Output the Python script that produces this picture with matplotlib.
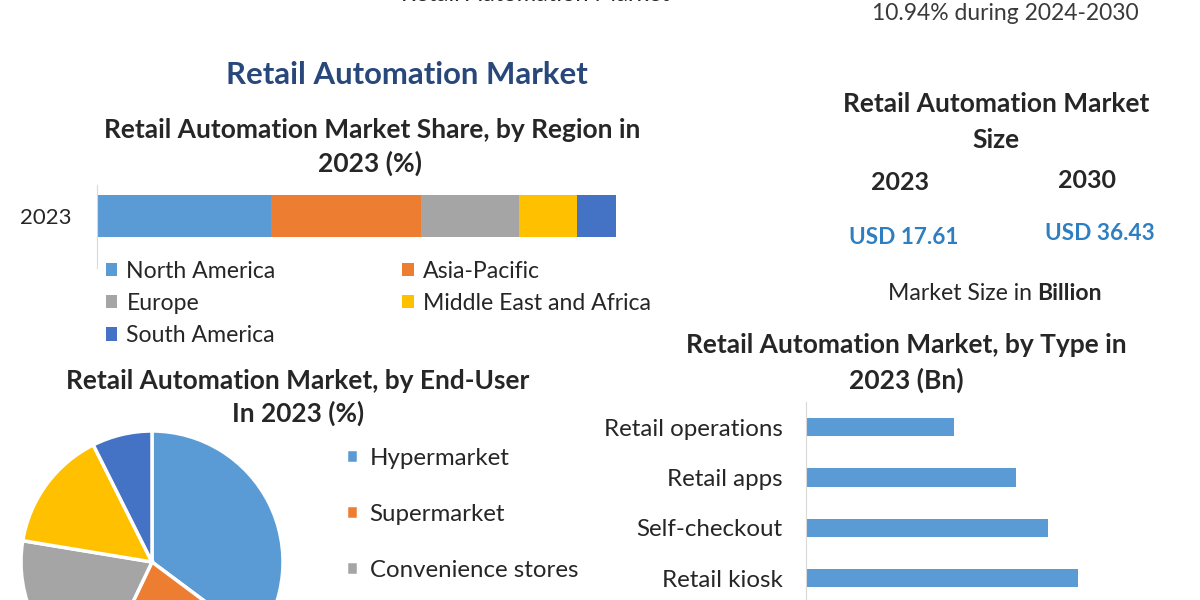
import matplotlib
matplotlib.use('Agg')
import matplotlib.pyplot as plt

plt.rcParams['font.family'] = ['Lato', 'DejaVu Sans']

W, H = 1200, 600

def box(x0, y0, x1, y1):
    '''pixel box (top-left origin) -> figure fraction rect'''
    return [x0 / W, 1 - y1 / H, (x1 - x0) / W, (y1 - y0) / H]

def fx(x):
    return x / W

def fy(y):
    return 1 - y / H

# data
regions = ['North America', 'Asia-Pacific', 'Europe', 'Middle East and Africa', 'South America']
region_share = [33.5, 28.8, 18.8, 11.3, 7.5]

end_users = ['Hypermarket', 'Supermarket', 'Convenience stores', 'Department stores', 'Others']
end_user_share = [35.2, 21.9, 20.5, 15.0, 7.4]

types = ['Retail operations', 'Retail apps', 'Self-checkout', 'Retail kiosk']
type_value = [2.21, 3.13, 3.61, 4.06]

size_years = ['2023', '2030']
size_values = ['USD 17.61', 'USD 36.43']

colors = ['#5B9BD5', '#ED7D31', '#A5A5A5', '#FFC000', '#4472C4']
TXT = '#262626'

fig = plt.figure(figsize=(12, 6), dpi=100)
fig.patch.set_facecolor('white')

# header remnants cut at the top
fig.text(fx(535), fy(1), 'Retail Automation Market', ha='center', va='baseline',
         fontsize=17, color=TXT)
fig.text(fx(1005), fy(13), '10.94% during 2024-2030', ha='center', va='center',
         fontsize=16.5, color='#3a3a3a')

fig.text(fx(407), fy(75), 'Retail Automation Market', ha='center', va='center',
         fontsize=22.4, fontweight='bold', color='#28477A')

# ---- region stacked bar ----
fig.text(fx(372), fy(130), 'Retail Automation Market Share, by Region in', ha='center',
         va='center', fontsize=19, fontweight='bold', color=TXT)
fig.text(fx(370), fy(163), '2023 (%)', ha='center', va='center', fontsize=19,
         fontweight='bold', color=TXT)

ax1 = fig.add_axes(box(97, 185, 617, 268))
left = 0
handles = []
for name, val, c in zip(regions, region_share, colors):
    h = ax1.barh(0, val, left=left, height=1.0, color=c, label=name)
    handles.append(h)
    left += val
ax1.set_xlim(0, 100)
ax1.set_ylim(-1.238, 0.738)
ax1.set_yticks([0])
ax1.set_yticklabels(['2023'], fontsize=16, color=TXT)
ax1.tick_params(axis='y', length=0, pad=18)
ax1.set_xticks([])
for s in ['top', 'right', 'bottom']:
    ax1.spines[s].set_visible(False)
ax1.spines['left'].set_color('#D9D9D9')
order = [0, 2, 4, 1, 3]
ax1.legend([handles[i] for i in order], [regions[i] for i in order], ncol=2,
           loc='upper left', bbox_to_anchor=(fx(85), fy(240)),
           bbox_transform=fig.transFigure, frameon=False, fontsize=16.6,
           handlelength=0.5, handleheight=0.5, handletextpad=0.4,
           columnspacing=5.48, labelspacing=0.485, labelcolor=TXT)

# ---- market size block ----
fig.text(fx(996), fy(104), 'Retail Automation Market', ha='center', va='center',
         fontsize=19, fontweight='bold', color=TXT)
fig.text(fx(996), fy(140), 'Size', ha='center', va='center', fontsize=19,
         fontweight='bold', color=TXT)
for x, y, yr in zip([900, 1087], [182, 180], size_years):
    fig.text(fx(x), fy(y), yr, ha='center', va='center', fontsize=18,
             fontweight='bold', color=TXT)
for x, y, v in zip([904, 1100], [237, 233], size_values):
    fig.text(fx(x), fy(y), v, ha='center', va='center', fontsize=16.3,
             fontweight='bold', color='#2E7EC2')

# "Market Size in Billion" with bold last word
renderer = fig.canvas.get_renderer()
t1 = fig.text(0, fy(293), 'Market Size in', ha='left', va='center', fontsize=16.6,
              color=TXT)
t2 = fig.text(0, fy(293), 'Billion', ha='left', va='center', fontsize=16.6,
              fontweight='bold', color=TXT)
w1 = t1.get_window_extent(renderer).width
w2 = t2.get_window_extent(renderer).width
gap = 5
x0 = 995 - (w1 + gap + w2) / 2
t1.set_x(fx(x0))
t2.set_x(fx(x0 + w1 + gap))

# ---- end-user pie ----
fig.text(fx(298), fy(381), 'Retail Automation Market, by End-User', ha='center',
         va='center', fontsize=18.9, fontweight='bold', color=TXT)
fig.text(fx(298), fy(413), 'In 2023 (%)', ha='center', va='center', fontsize=18.9,
         fontweight='bold', color=TXT)

ax2 = fig.add_axes(box(21, 431, 283, 693))
wedges, _ = ax2.pie(end_user_share, colors=colors, startangle=90, counterclock=False,
                    wedgeprops=dict(edgecolor='white', linewidth=2.5))
ax2.set_xlim(-1, 1)
ax2.set_ylim(-1, 1)
ax2.set_aspect('equal')
ax2.legend(wedges, end_users, loc='upper left', bbox_to_anchor=(fx(324), fy(426)),
           bbox_transform=fig.transFigure, frameon=False, fontsize=17.25,
           handlelength=0.5, handleheight=0.5, handletextpad=0.5,
           labelspacing=1.46, labelcolor=TXT)

# ---- type bars ----
fig.text(fx(906), fy(345), 'Retail Automation Market, by Type in', ha='center',
         va='center', fontsize=19, fontweight='bold', color=TXT)
fig.text(fx(906), fy(380), '2023 (Bn)', ha='center', va='center', fontsize=19,
         fontweight='bold', color=TXT)

ax3 = fig.add_axes(box(806, 402, 1141, 700))
ax3.barh(range(len(types)), type_value, height=0.36, color=colors[0])
ax3.set_xlim(0, 5)
ax3.set_ylim(5.42, -0.5)
ax3.set_yticks(range(len(types)))
ax3.set_yticklabels(types, fontsize=17.4, color=TXT)
ax3.tick_params(axis='y', length=0, pad=17)
ax3.set_xticks([])
for s in ['top', 'right', 'bottom']:
    ax3.spines[s].set_visible(False)
ax3.spines['left'].set_color('#D9D9D9')

fig.savefig('out.png', dpi=100, facecolor='white')
